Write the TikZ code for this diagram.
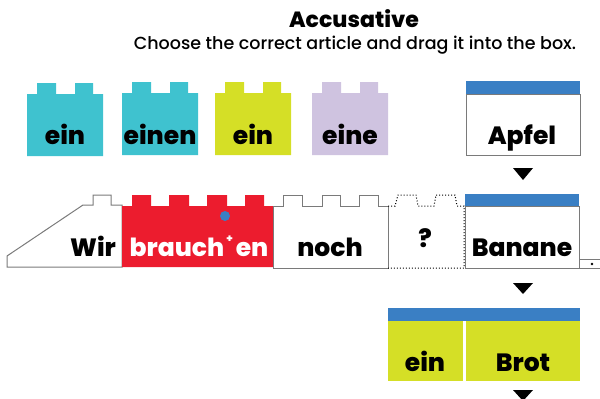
\documentclass[tikz,border=0pt]{standalone}
\usepackage{fontspec}
\setmainfont{Poppins}[BoldFont={* ExtraBold}]
\newfontfamily\submed{Poppins Medium}
\definecolor{bcyan}{HTML}{3FC2CF}
\definecolor{byellow}{HTML}{D5DF26}
\definecolor{blav}{HTML}{CFC3E0}
\definecolor{bred}{HTML}{EC1C2E}
\definecolor{bblue}{HTML}{3A7FC4}
\definecolor{bgray}{HTML}{7A7A7A}
\newcommand\brickTwo[3]{\fill[#3] (#1,#2) ++(0,62) -- ++(0,-62) -- ++(10,0) -- ++(0,-11) -- ++(19,0) -- ++(0,11) -- ++(19,0) -- ++(0,-11) -- ++(18,0) -- ++(0,11) -- ++(10,0) -- ++(0,62) -- cycle;}
\tikzset{
  lbl/.style={anchor=base, inner sep=0pt, font=\fontsize{25}{25}\selectfont\bfseries},
  outl/.style={draw=bgray, line width=1pt},
  tri/.style={fill=black},
}
\begin{document}
\begin{tikzpicture}[x=1pt,y=-1pt]
\useasboundingbox (0,0) rectangle (600,399);
% title
\node[anchor=base, inner sep=0pt, font=\fontsize{22}{22}\selectfont\bfseries] (title) at (354,27) {Accusative};
\node[anchor=base, inner sep=0pt, font=\fontsize{17.5}{17.5}\submed] (sub) at (355,49) {Choose the correct article and drag it into the box.};
% top bricks
\brickTwo{27}{94}{bcyan}
\node[lbl] (b1) at (65,144) {ein};
\brickTwo{122}{93}{bcyan}
\node[lbl] (b2) at (160,144) {einen};
\brickTwo{215}{93}{byellow}
\node[lbl] (b3) at (253,144) {ein};
\brickTwo{312}{93}{blav}
\node[lbl] (b4) at (350,144) {eine};
% Apfel box
\draw[outl, fill=white] (466,94) rectangle (580,155);
\fill[bblue] (466,81) rectangle (580,94);
\node[lbl] (apfel) at (522,144) {Apfel};
\fill[tri] (513,168) -- (533,168) -- (523,180) -- cycle;
% row 2: Wir
\draw[outl] (7,256) -- (83,205) -- (93,205) -- (93,195) -- (111,195) -- (111,205) -- (122,205) -- (122,267) -- (7,267) -- cycle;
\node[lbl] (wir) at (93,256) {Wir};
% red brick
\fill[bred] (122,267) -- (122,206) -- (132,206) -- (132,195) -- (151,195) -- (151,206) -- (169,206) -- (169,195) -- (189,195) -- (189,206) -- (207,206) -- (207,195) -- (227,195) -- (227,206) -- (245,206) -- (245,195) -- (264,195) -- (264,206) -- (273,206) -- (273,267) -- cycle;
\fill[bblue] (225,216) circle (5);
\node[lbl, text=white] (verb) at (199,256) {brauch\hspace{2pt}\raisebox{0.55em}{\fontsize{11}{11}\selectfont +}\hspace{3pt}en};
% noch brick
\draw[outl] (273,268) -- (273,206) -- (283,206) -- (283,195) -- (302,195) -- (302,206) -- (322,206) -- (322,195) -- (340,195) -- (340,206) -- (359,206) -- (359,195) -- (378,195) -- (378,206) -- (388,206) -- (388,268) -- cycle;
\node[lbl] (noch) at (330,256) {noch};
% dotted slot
\draw[line width=1pt, dotted] (388,206) -- (395,206) -- (398,195) -- (416,195) -- (418,206) -- (434,206) -- (436,195) -- (455,195) -- (457,206) -- (464,206) -- (464,268) -- (388,268);
\node[lbl] (q) at (425,247) {?};
% Banane
\draw[outl, fill=white] (465,206) rectangle (579,268);
\fill[bblue] (465,194) rectangle (579,206);
\node[lbl] (banane) at (522,256) {Banane};
\draw[outl] (579,259) -- (600,259);
\draw[outl] (579,268) -- (600,268);
\fill (592,264) circle (1.3);
\fill[tri] (513,283) -- (533,283) -- (523,294) -- cycle;
% ein Brot
\fill[bblue] (388,308) rectangle (580,321);
\fill[byellow] (388,321) rectangle (463,381);
\fill[byellow] (466,321) rectangle (580,381);
\node[lbl] (ein) at (425,371) {ein};
\node[lbl] (brot) at (523,371) {Brot};
\fill[tri] (513,390) -- (533,390) -- (523,401) -- cycle;
\end{tikzpicture}
\end{document}
